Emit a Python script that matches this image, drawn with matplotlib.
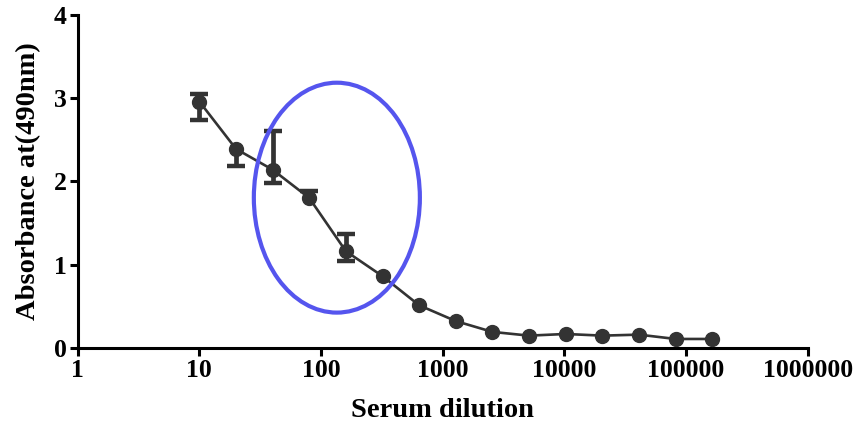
import matplotlib
matplotlib.use("Agg")
import matplotlib.pyplot as plt
from matplotlib.patches import Ellipse
import numpy as np

dilution = [10, 20, 40, 80, 160, 320, 640, 1280, 2560, 5120, 10240, 20480, 40960, 81920, 163840]
absorbance = [2.96, 2.39, 2.14, 1.80, 1.16, 0.86, 0.51, 0.32, 0.19, 0.145, 0.165, 0.145, 0.157, 0.105, 0.105]
err_low = [0.22, 0.20, 0.16, 0.0, 0.12, 0, 0, 0, 0, 0, 0, 0, 0, 0, 0]
err_high = [0.09, 0.0, 0.46, 0.08, 0.21, 0, 0, 0, 0, 0, 0, 0, 0, 0, 0]
x_ticks = [1, 10, 100, 1000, 10000, 100000, 1000000]
x_tick_labels = ["1", "10", "100", "1000", "10000", "100000", "1000000"]
y_ticks = [0, 1, 2, 3, 4]

plt.rcParams['font.family'] = ['Liberation Serif', 'DejaVu Serif']
plt.rcParams['font.weight'] = 'bold'

fig = plt.figure(figsize=(8.6, 4.3), dpi=100)
ax = fig.add_axes([0.0903, 0.1914, 0.849, 0.7737])

col = '#333333'
x = np.array(dilution, dtype=float)
y = np.array(absorbance)
lo = np.array(err_low)
hi = np.array(err_high)
has = (lo > 0) | (hi > 0)
ax.vlines(x[has], (y - lo)[has], (y + hi)[has], color=col, lw=3.4, zorder=2)
ml = lo > 0
mh = hi > 0
ax.plot(x[ml], (y - lo)[ml], linestyle='none', marker='_', markersize=12.5,
        markeredgewidth=3.2, color=col, zorder=2)
ax.plot(x[mh], (y + hi)[mh], linestyle='none', marker='_', markersize=12.5,
        markeredgewidth=3.2, color=col, zorder=2)
ax.plot(x, y, '-o', color=col, lw=1.9, markersize=10, zorder=3)

ax.set_xscale('log')
ax.set_xlim(1, 1e6)
ax.set_ylim(0, 4)
ax.set_xticks(x_ticks)
ax.set_xticklabels(x_tick_labels)
ax.set_yticks(y_ticks)
ax.xaxis.set_minor_locator(matplotlib.ticker.NullLocator())

for s in ['top', 'right']:
    ax.spines[s].set_visible(False)
for s in ['left', 'bottom']:
    ax.spines[s].set_linewidth(2.2)
    ax.spines[s].set_color('black')
ax.tick_params(axis='both', which='major', length=6, width=2.2, labelsize=18.5, pad=2)
for lab in ax.get_xticklabels() + ax.get_yticklabels():
    lab.set_fontweight('bold')

ax.set_xlabel('Serum dilution', fontsize=20.5, fontweight='bold', labelpad=12)
ax.set_ylabel('Absorbance at(490nm)', fontsize=20.5, fontweight='bold', labelpad=9)

ell = Ellipse((0.355, 0.451), 0.2274, 0.691, transform=ax.transAxes,
              fill=False, edgecolor='#5555ee', lw=3, zorder=4, clip_on=False)
ax.add_patch(ell)

fig.savefig('out.png', dpi=100)
